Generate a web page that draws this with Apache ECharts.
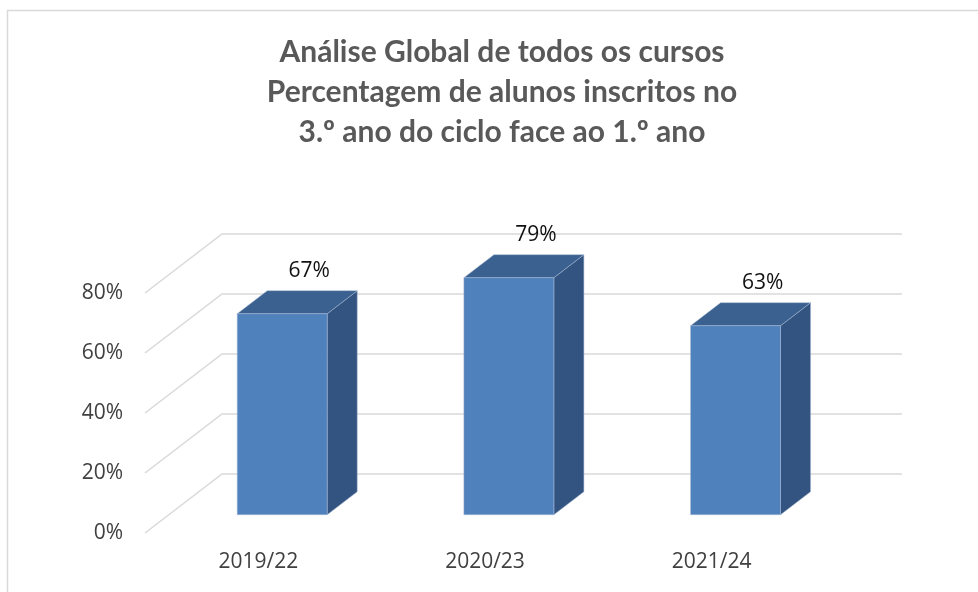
<!DOCTYPE html>
<html>
<head>
<meta charset="utf-8">
<script src="https://cdn.jsdelivr.net/npm/echarts@6/dist/echarts.min.js"></script>
<style>
html,body{margin:0;padding:0;background:#fff;}
#chart{width:978px;height:592px;}
</style>
</head>
<body>
<div id="chart"></div>
<script>
var titleLines = ['Análise Global de todos os cursos', 'Percentagem de alunos inscritos no', '3.º ano do ciclo face ao 1.º ano'];
var categories = ['2019/22', '2020/23', '2021/24'];
var values = [0.67, 0.79, 0.63];
var yTicks = [0, 0.2, 0.4, 0.6, 0.8];

// depth vector of the 3D floor (front plane -> back wall)
var DX = 77, DY = -59;
var F0 = 0.31, F1 = 0.70; // bar front / back depth fraction
var BAR_FRAC = 0.397;

function pct(v) { return Math.round(v * 100) + '%'; }

var chart = echarts.init(document.getElementById('chart'), null, {renderer: 'canvas'});

var option = {
  backgroundColor: '#ffffff',
  animation: false,
  title: {
    text: titleLines.join('\n'),
    left: 497,
    top: 27,
    textAlign: 'center',
    textStyle: {
      fontFamily: 'Lato',
      fontWeight: 'bold',
      fontSize: 30,
      lineHeight: 40,
      color: '#595959'
    }
  },
  graphic: [{
    type: 'rect',
    shape: {x: 7.5, y: 10.5, width: 1100, height: 1100},
    style: {fill: 'none', stroke: '#D9D9D9', lineWidth: 1.5},
    silent: true,
    z: -10
  }],
  grid: {left: 145, right: 153, top: 293, bottom: 59},
  xAxis: {
    type: 'category',
    data: categories,
    axisLine: {show: false},
    axisTick: {show: false},
    axisLabel: {fontFamily: 'Open Sans', fontSize: 21, color: '#404040', margin: 19}
  },
  yAxis: {
    type: 'value',
    min: 0,
    max: 0.8,
    interval: 0.2,
    splitLine: {show: false},
    axisLine: {show: false},
    axisTick: {show: false},
    axisLabel: {fontFamily: 'Open Sans', fontSize: 21, color: '#404040', margin: 22, formatter: pct}
  },
  series: [
    {
      type: 'custom',
      silent: true,
      z: 1,
      data: yTicks.map(function (t) { return [0, t]; }),
      renderItem: function (params, api) {
        var cs = params.coordSys;
        var y = api.coord([0, api.value(1)])[1];
        var left = cs.x, right = cs.x + cs.width;
        return {
          type: 'polyline',
          shape: {points: [[left, y], [left + DX, y + DY], [right + DX, y + DY]]},
          style: {fill: null, stroke: '#D9D9D9', lineWidth: 1.5}
        };
      }
    },
    {
      type: 'custom',
      z: 2,
      data: values.map(function (v, i) { return [i, v]; }),
      renderItem: function (params, api) {
        var i = api.value(0), v = api.value(1);
        var base = api.coord([i, 0]);
        var top = api.coord([i, v]);
        var bw = api.size([1, 0])[0] * BAR_FRAC;
        var ox = DX * F0, oy = DY * F0;
        var bx = DX * (F1 - F0), by = DY * (F1 - F0);
        var x0 = base[0] - bw / 2 + ox, x1 = base[0] + bw / 2 + ox;
        var yB = base[1] + oy, yT = top[1] + oy;
        return {
          type: 'group',
          children: [
            {type: 'polygon', shape: {points: [[x1, yT], [x1 + bx, yT + by], [x1 + bx, yB + by], [x1, yB]]},
             style: {fill: '#335480', stroke: '#A7B9D3', lineWidth: 0.5}},
            {type: 'polygon', shape: {points: [[x0, yT], [x1, yT], [x1 + bx, yT + by], [x0 + bx, yT + by]]},
             style: {fill: '#3B6190', stroke: '#A7B9D3', lineWidth: 0.5}},
            {type: 'rect', shape: {x: x0, y: yT, width: x1 - x0, height: yB - yT},
             style: {fill: '#4F81BD', stroke: '#A7B9D3', lineWidth: 0.5}},
            {type: 'text', x: (x0 + x1) / 2 + bx - 3, y: yT + by - 20,
             style: {text: pct(v), fontFamily: 'Open Sans', fontSize: 21, fill: '#111111',
                     align: 'center', verticalAlign: 'middle'}}
          ]
        };
      }
    }
  ]
};
chart.setOption(option);
</script>
</body>
</html>
